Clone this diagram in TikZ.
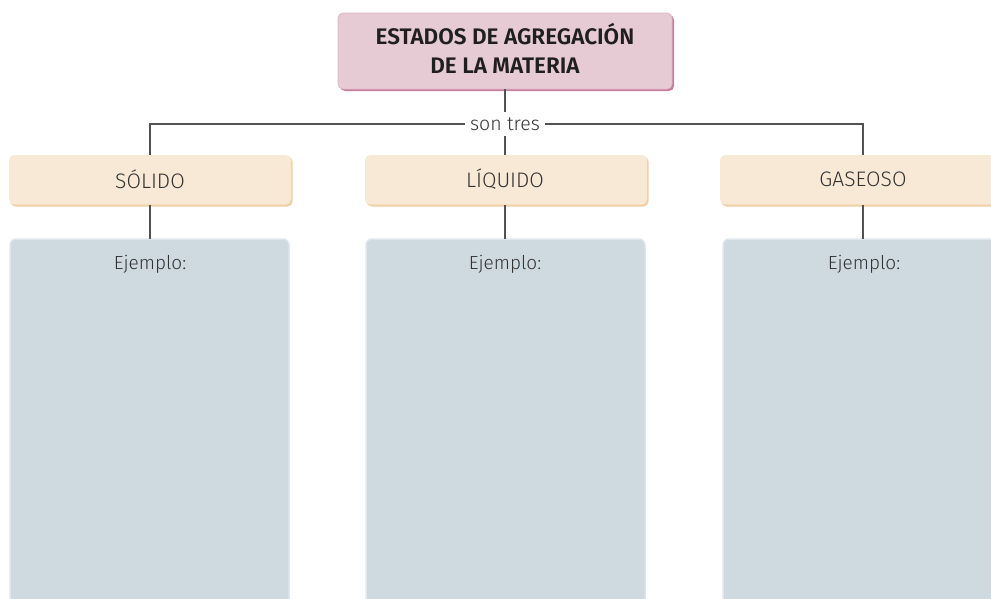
\documentclass[tikz,border=0pt]{standalone}
\usepackage{fontspec}
\setmainfont{Fira Sans}[UprightFont=* Light, BoldFont=* SemiBold]
\begin{document}
\begin{tikzpicture}[x=1pt,y=-1pt,
  conn/.style={draw=black!68, line width=1.8pt},
  titlebox/.style={rounded corners=5pt, fill=pinkfill, draw=pinkline, line width=0.8pt},
  statebox/.style={rounded corners=5pt, fill=orangefill},
  exbox/.style={rounded corners=6pt, fill=bluefill, draw=blueline, line width=1.5pt},
  lbl/.style={font=\fontsize{19}{24}\selectfont, text=black!80},
  caplbl/.style={font=\fontsize{21}{24}\selectfont, text=black!80}]
\definecolor{pinkfill}{HTML}{E6CAD4}
\definecolor{pinkline}{HTML}{DDB8C6}
\definecolor{pinkshadow}{HTML}{C77C9A}
\definecolor{orangefill}{HTML}{F8E9D6}
\definecolor{orangeshadow}{HTML}{EFCFA5}
\definecolor{bluefill}{HTML}{CED9E0}
\definecolor{blueline}{HTML}{DFE7EC}
\useasboundingbox (0,0) rectangle (991,598);
\clip (0,0) rectangle (991,598);
% title
\fill[pinkshadow, rounded corners=5pt] (340,15) rectangle (674,91);
\path[titlebox] (338,13) rectangle (672,89);
\node[font=\fontsize{22.5}{29}\selectfont\bfseries, text=black!88, align=center] (title) at (505,48.5) {ESTADOS DE AGREGACIÓN\\DE LA MATERIA};
\coordinate (tb) at (505,89);
% son tres
\node[lbl, font=\fontsize{19.5}{24}\selectfont, fill=white, inner sep=5pt] (son) at (505,124) {son tres};
\coordinate (hl) at (150,124);
\coordinate (hr) at (863,124);
% state boxes
\foreach \xa/\xb in {9/291, 365/647, 720/1002}{
  \fill[orangeshadow, rounded corners=5pt] (\xa+1.5,156.5) rectangle (\xb+1.5,206.5);
  \path[statebox] (\xa,155) rectangle (\xb,204.5);
}
\node[caplbl] (sol) at (150,179.5) {SÓLIDO};
\node[caplbl] (liq) at (505,179.5) {LÍQUIDO};
\node[caplbl] (gas) at (863,179.5) {GASEOSO};
% example boxes
\path[exbox] (10,239) rectangle (289,640);
\path[exbox] (366,239) rectangle (645,640);
\path[exbox] (723,239) rectangle (1010,640);
\node[lbl] (e1) at (150,264) {Ejemplo:};
\node[lbl] (e2) at (505,264) {Ejemplo:};
\node[lbl] (e3) at (864,264) {Ejemplo:};
% connectors
\draw[conn] (tb) -- (son.north);
\draw[conn] (son.west) -- (hl) -- (150,155);
\draw[conn] (son.east) -- (hr) -- (863,155);
\draw[conn] (son.south) -- (505,155);
\draw[conn] (150,204.5) -- (150,239);
\draw[conn] (505,204.5) -- (505,239);
\draw[conn] (863,204.5) -- (863,239);
\end{tikzpicture}
\end{document}
